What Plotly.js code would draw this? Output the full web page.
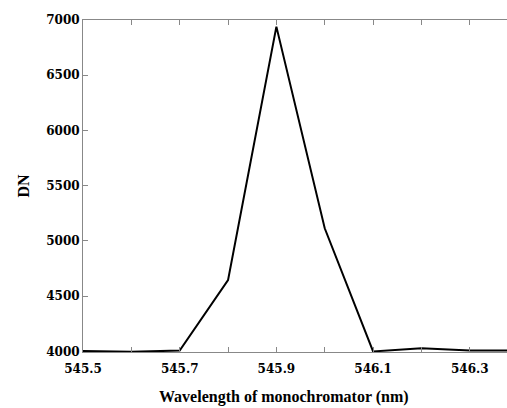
<!DOCTYPE html>
<html>
<head>
<meta charset="utf-8">
<script src="https://cdn.plot.ly/plotly-3.0.1.min.js"></script>
<style>html,body{margin:0;padding:0;background:#fff;}#chart{width:507px;height:408px;}</style>
</head>
<body>
<div id="chart"></div>
<script>
var wavelength = [545.5, 545.6, 545.7, 545.8, 545.9, 546.0, 546.1, 546.2, 546.3, 546.4];
var dn = [4003, 3997, 4008, 4645, 6940, 5115, 4000, 4030, 4008, 4010];
var xTickVals = [545.5, 545.6, 545.7, 545.8, 545.9, 546.0, 546.1, 546.2, 546.3, 546.4];
var xTickText = ["545.5", "", "545.7", "", "545.9", "", "546.1", "", "546.3", ""];
var yTickVals = [4000, 4500, 5000, 5500, 6000, 6500, 7000];
var xTitle = "Wavelength of monochromator (nm)";
var yTitle = "DN";

var tickFont = {family: "DejaVu Serif", size: 12, color: "#000", weight: "bold"};
var titleFont = {family: "Liberation Serif", size: 16, color: "#000", weight: "bold"};

var trace = {
  x: wavelength, y: dn, type: "scatter", mode: "lines",
  line: {color: "#000", width: 2}, hoverinfo: "skip"
};

var layout = {
  width: 507, height: 408,
  margin: {l: 83, r: 0, t: 20, b: 56, pad: 0},
  paper_bgcolor: "#fff", plot_bgcolor: "#fff",
  showlegend: false,
  xaxis: {
    range: [545.5, 546.377], tickmode: "array", tickvals: xTickVals, ticktext: xTickText,
    ticks: "inside", ticklen: 5, tickcolor: "#888", tickwidth: 1,
    ticklabelstandoff: 6,
    showline: true, linecolor: "#888", linewidth: 1, mirror: "ticks",
    showgrid: false, zeroline: false,
    tickfont: tickFont
  },
  yaxis: {
    range: [3995, 7000], tickmode: "array", tickvals: yTickVals,
    ticks: "inside", ticklen: 5, tickcolor: "#888", tickwidth: 1,
    showline: true, linecolor: "#888", linewidth: 1, mirror: false,
    showgrid: false, zeroline: false,
    tickfont: tickFont,
    title: {text: yTitle, font: titleFont, standoff: 12}
  },
  annotations: [{
    text: xTitle, font: titleFont, showarrow: false,
    xref: "paper", yref: "paper", x: 0.475, y: -0.1355,
    xanchor: "center", yanchor: "middle"
  }]
};

Plotly.newPlot("chart", [trace], layout, {displayModeBar: false, staticPlot: true});
</script>
</body>
</html>
